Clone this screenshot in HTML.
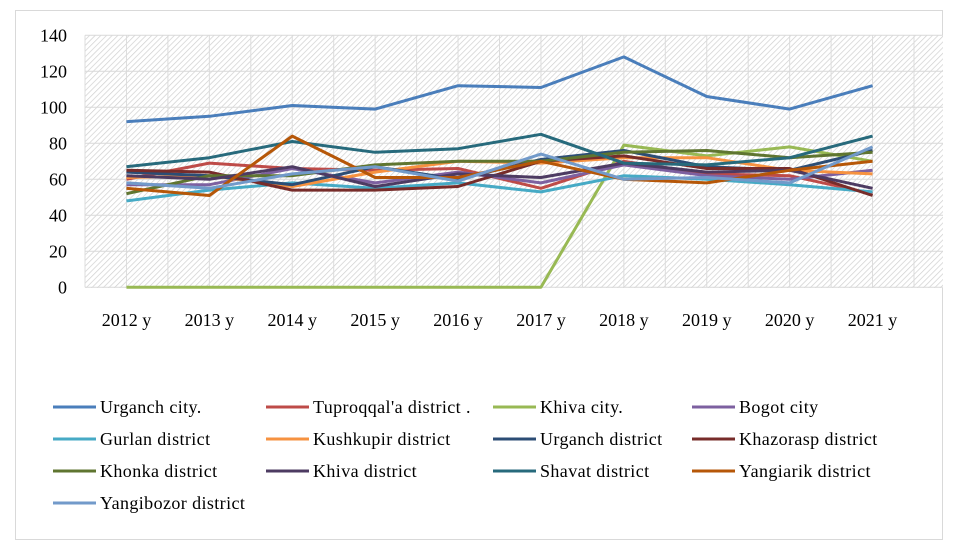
<!DOCTYPE html>
<html><head><meta charset="utf-8"><style>
body{margin:0;background:#fff;}
svg text{font-family:"Liberation Serif",serif;}
</style></head><body>
<svg id="chart" width="953" height="550" xmlns="http://www.w3.org/2000/svg">
<defs>
<pattern id="hatch" width="4" height="4" patternUnits="userSpaceOnUse" patternTransform="rotate(45)">
<rect width="4" height="4" fill="#fff"/><line x1="0" y1="0" x2="0" y2="4" stroke="#cfcfcf" stroke-width="1.4"/>
</pattern>
</defs>
<rect x="15.5" y="10.5" width="927" height="529" fill="#fff" stroke="#d9d9d9"/>
<rect x="85" y="35" width="858" height="253" fill="url(#hatch)"/>
<g id="grid"></g>
<g id="yticks"></g>
<g id="xticks"></g>
<g id="series"></g>
<g id="legend"></g>
</svg>
<script>
const categories=["2012 y","2013 y","2014 y","2015 y","2016 y","2017 y","2018 y","2019 y","2020 y","2021 y"];
const yTicks=[0,20,40,60,80,100,120,140];
const seriesNames=["Urganch city.","Tuproqqal'a district .","Khiva city.","Bogot city","Gurlan district","Kushkupir district","Urganch district","Khazorasp  district","Khonka district","Khiva district","Shavat district","Yangiarik district","Yangibozor district"];
const colors=["#4A7EBB","#BE4B48","#98B954","#7D60A0","#46AAC5","#F69240","#2C4D75","#772C2A","#5F7530","#4D3B62","#276A7C","#B65708","#729ACA"];
const urganchCity=[92,95,101,99,112,111,128,106,99,112];
const tuproqqala=[60,69,66,65,66,55,70,63,62,52];
const khivaCity=[0,0,0,0,0,0,79,73,78,70];
const bogot=[57,57,66,58,64,58,68,62,60,65];
const gurlan=[48,54,58,55,58,53,62,60,57,53];
const kushkupir=[61,62,56,64,70,69,72,72,65,63];
const urganchDistrict=[64,62,57,67,60,71,76,67,65,76];
const khazorasp=[65,64,54,54,56,70,73,66,66,51];
const khonka=[52,62,62,68,70,70,75,76,72,75];
const khivaDistrict=[62,60,67,56,63,61,69,64,65,55];
const shavat=[67,72,81,75,77,85,69,68,72,84];
const yangiarik=[55,51,84,61,61,70,60,58,65,70];
const yangibozor=[58,55,63,67,59,74,60,61,58,78];
const allSeries=[urganchCity,tuproqqala,khivaCity,bogot,gurlan,kushkupir,urganchDistrict,khazorasp,khonka,khivaDistrict,shavat,yangiarik,yangibozor];
const NS="http://www.w3.org/2000/svg";
const x0=85,x1=914,y0=287.3,yTop=35.3,yMax=140;
const step=(x1-x0)/categories.length;
function xs(i){return x0+step*(i+0.5);}
function ys(v){return y0-(v/yMax)*(y0-yTop);}
function mk(tag,attrs,parent){const e=document.createElementNS(NS,tag);for(const k in attrs)e.setAttribute(k,attrs[k]);parent.appendChild(e);return e;}
const grid=document.getElementById('grid');
for(let i=0;i<=categories.length*2;i++){const gx=x0+step/2*i;
const l=mk('line',{x1:gx,x2:gx,y1:yTop,y2:y0,stroke:'#dcdcdc','stroke-width':1},grid);

}
const yt=document.getElementById('yticks');
yTicks.forEach(v=>{const l=mk('line',{x1:x0,x2:943,y1:ys(v),y2:ys(v),stroke:'#d9d9d9','stroke-width':1},grid);


const t=mk('text',{x:67,y:ys(v)+6,'text-anchor':'end','font-size':18,fill:'#000'},yt);t.textContent=v;

});
const xt=document.getElementById('xticks');
categories.forEach((c,i)=>{const t=mk('text',{x:xs(i),y:326,'text-anchor':'middle','font-size':18,fill:'#000'},xt);t.textContent=c;

});
const sg=document.getElementById('series');
allSeries.forEach((s,k)=>{const p=mk('polyline',{points:s.map((v,i)=>xs(i)+','+ys(v)).join(' '),fill:'none',stroke:colors[k],'stroke-width':3,'stroke-linejoin':'round'},sg);

});
const lg=document.getElementById('legend');
const colX=[53,266,493,692];
seriesNames.forEach((n,k)=>{const cx=colX[k%4],cy=407+Math.floor(k/4)*32;
const g=mk('g',{},lg);


mk('line',{x1:cx,x2:cx+43,y1:cy,y2:cy,stroke:colors[k],'stroke-width':3},g);
const t=mk('text',{x:cx+47,y:cy+6,'font-size':18,'letter-spacing':0.4,fill:'#000'},g);t.textContent=n;});
</script>
</body></html>
